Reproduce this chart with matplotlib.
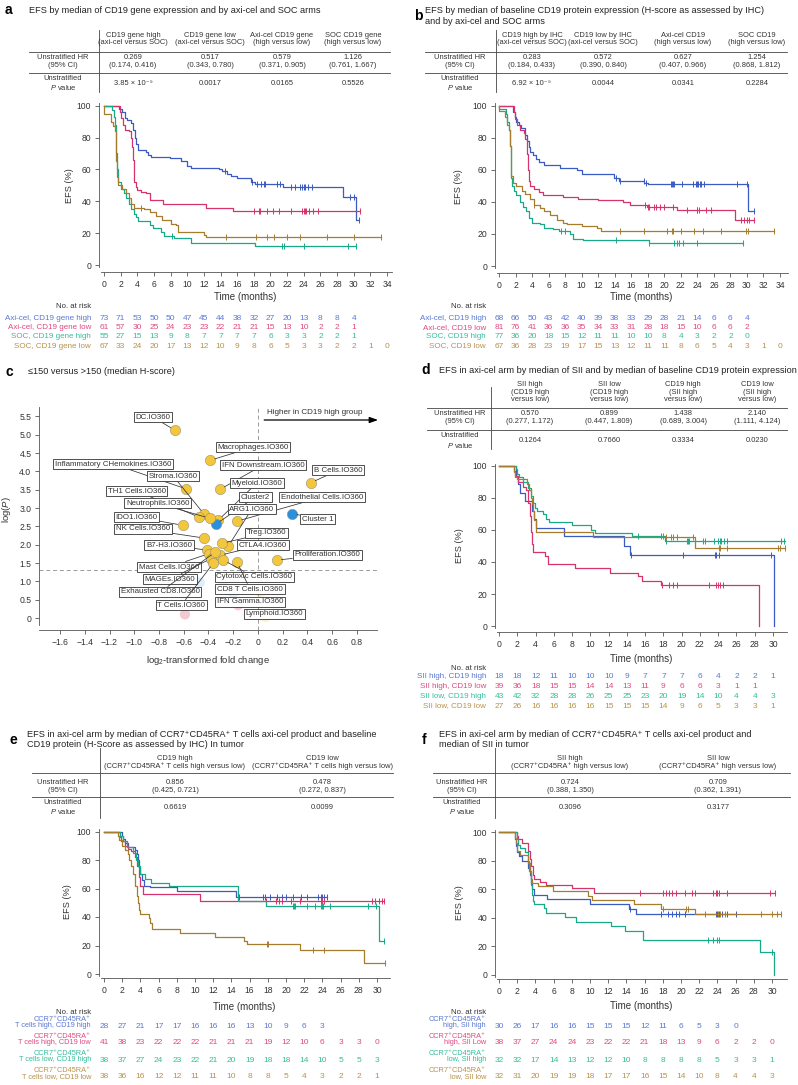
"""
Biomarker / EFS composite figure (panels a-f).
Kaplan-Meier panels with HR tables + risk tables, and a volcano-style
scatter of IO360 signatures.  Saves out.png (798 x 1085 px).
"""

import numpy as np
import matplotlib
matplotlib.use("Agg")
import matplotlib.pyplot as plt
from matplotlib.lines import Line2D
from matplotlib.transforms import blended_transform_factory

plt.rcParams["font.family"] = ["Liberation Sans", "DejaVu Sans"]
plt.rcParams["mathtext.fontset"] = "custom"
plt.rcParams["mathtext.rm"] = "Liberation Sans"
plt.rcParams["mathtext.it"] = "Liberation Sans:italic"

W, H = 798, 1085

BLUE, PINK, TEAL, BROWN = "#3a5bc2", "#d6336e", "#18aa88", "#a67d2e"
R_BLUE, R_PINK, R_TEAL, R_BROWN = "#5b78d2", "#de4a82", "#35bd9b", "#b8924c"
TXT = "#333333"
AXC = "#555555"

# ── Panel a: CD19 gene expression ─────────────────────────────────────────────
a_axi_high_t = [0, 1.8, 2.2, 2.5, 2.8, 3.2, 3.5, 3.7, 3.9, 4.1, 5.0, 5.3, 5.6, 7.9, 9.2, 10.0,
                10.4, 13.8, 14.2, 14.8, 15.2, 16.0, 17.7, 18.1, 21.5, 28.7, 30.3, 30.6]
a_axi_high_s = [100, 98, 96, 92, 91, 89, 85, 80, 76, 72, 71, 69, 68, 67, 65, 62,
                61, 60, 59, 57, 56, 54.5, 52, 51, 49, 43, 28.5, 28.5]
a_axi_high_c = [14.5, 17.8, 18.4, 18.9, 19.2, 19.4, 20.8, 21.1, 22.5, 23.0, 23.5, 23.8,
                24.0, 24.2, 24.5, 25.0, 29.5, 30.0, 30.6]
a_axi_low_t = [0, 1.9, 2.1, 2.3, 2.5, 3.0, 3.2, 3.35, 3.45, 3.55, 3.65, 3.8, 4.0, 4.5, 5.0,
               5.5, 7.1, 12.2, 15.5, 30.7]
a_axi_low_s = [100, 96, 92, 88, 85, 84, 80, 74, 66, 58, 52, 49, 47, 46, 45,
               41, 38, 35.5, 34, 34]
a_axi_low_c = [18.0, 18.6, 18.8, 19.6, 20.3, 21.0, 22.5, 23.8, 24.0, 24.1, 24.3, 24.6,
               25.1, 25.7, 30.7]
a_soc_high_t = [0, 1.0, 1.2, 1.35, 1.45, 1.5, 1.55, 1.65, 2.0, 2.4, 2.7, 3.0, 3.3, 3.6, 3.9,
                4.1, 5.5, 5.9, 6.8, 7.2, 8.4, 10.4, 18.1, 30.3]
a_soc_high_s = [100, 97, 93, 88, 80, 70, 60, 52, 48, 45, 42, 38, 35, 32, 30,
                27.5, 25, 23, 21, 18, 17, 14, 12, 12]
a_soc_high_c = [8.2, 21.4, 21.6, 24.0, 29.3, 30.3]
a_soc_low_t = [0, 0.05, 0.9, 1.1, 1.3, 1.45, 1.5, 1.6, 1.7, 2.2, 2.6, 3.0, 3.3, 3.6, 4.8,
               5.5, 6.3, 7.0, 8.0, 8.6, 8.9, 12.0, 12.3, 33.3]
a_soc_low_s = [100, 95, 90, 87, 84, 75, 65, 55, 50, 48, 45, 42, 38, 36, 35,
               33, 31, 28, 26, 25, 20.5, 19, 17.5, 17.5]
a_soc_low_c = [4.5, 14.6, 18.3, 19.6, 20.4, 22.0, 23.6, 26.8, 30.0, 33.3]

a_labels = ["Axi-cel, CD19 gene high", "Axi-cel, CD19 gene low",
            "SOC, CD19 gene high", "SOC, CD19 gene low"]
a_risk_axi_high = [73, 71, 53, 50, 50, 47, 45, 44, 38, 32, 27, 20, 13, 8, 8, 4]
a_risk_axi_low = [61, 57, 30, 25, 24, 23, 23, 22, 21, 21, 15, 13, 10, 2, 2, 1]
a_risk_soc_high = [55, 27, 15, 13, 9, 8, 7, 7, 7, 7, 6, 3, 3, 2, 2, 1]
a_risk_soc_low = [67, 33, 24, 20, 17, 13, 12, 10, 9, 8, 6, 5, 3, 3, 2, 2, 1, 0]

a_headers = ["CD19 gene high\n(axi-cel versus SOC)", "CD19 gene low\n(axi-cel versus SOC)",
             "Axi-cel CD19 gene\n(high versus low)", "SOC CD19 gene\n(high versus low)"]
a_hr = ["0.269\n(0.174, 0.416)", "0.517\n(0.343, 0.780)",
        "0.579\n(0.371, 0.905)", "1.126\n(0.761, 1.667)"]
a_p = ["3.85 × 10⁻⁹", "0.0017", "0.0165", "0.5526"]

# ── Panel b: CD19 protein (IHC) ───────────────────────────────────────────────
b_axi_high_t = [0, 1.7, 1.9, 2.1, 2.4, 2.7, 3.2, 3.4, 3.6, 3.8, 4.1, 4.5, 4.9, 5.4, 7.4, 9.4,
                10.0, 13.9, 14.5, 17.6, 18.0, 30.1, 30.8]
b_axi_high_s = [100, 96, 93, 90, 88, 86, 82, 78, 74, 71, 69, 67, 65, 63, 61, 60,
                57.5, 55, 53, 52, 51, 34, 34]
b_axi_high_c = [14.2, 14.6, 17.5, 17.8, 20.8, 20.9, 21.0, 21.2, 22.2, 23.5, 23.8, 24.0,
                24.1, 24.3, 24.5, 24.8, 28.8, 30.0, 30.8]
b_axi_low_t = [0, 1.8, 1.9, 2.2, 2.5, 3.0, 3.2, 3.35, 3.5, 3.65, 3.8, 4.2, 4.9, 5.3, 7.8,
               9.5, 12.0, 15.0, 15.8, 17.9, 21.5, 28.6, 30.8]
b_axi_low_s = [100, 96, 92, 88, 85, 83, 79, 70, 60, 53, 50, 48, 46, 44, 43,
               42, 41, 40, 38, 37, 35, 29, 29]
b_axi_low_c = [17.7, 18.0, 18.2, 18.7, 19.0, 19.5, 20.0, 21.0, 22.8, 23.9, 24.0, 24.2,
               25.0, 25.7, 29.3, 29.7, 30.0, 30.3, 30.8]
b_soc_high_t = [0, 0.05, 0.8, 1.0, 1.15, 1.3, 1.4, 1.5, 1.6, 1.8, 2.0, 2.5, 2.9, 3.3, 3.6,
                4.0, 5.0, 5.5, 6.5, 7.3, 8.6, 9.0, 10.2, 18.2, 29.5]
b_soc_high_s = [100, 98, 95, 90, 85, 75, 62, 55, 50, 47, 44, 40, 37, 34, 30,
                27, 26, 24, 23, 22, 20, 17, 16, 14.5, 14.5]
b_soc_high_c = [7.5, 8.0, 14.1, 18.2, 21.2, 21.5, 21.8, 22.3, 24.0, 29.5]
b_soc_low_t = [0, 0.05, 0.7, 1.0, 1.2, 1.35, 1.45, 1.5, 1.7, 2.0, 2.8, 3.2, 3.7, 4.2, 5.0,
               5.5, 6.2, 7.0, 7.7, 8.2, 10.0, 11.8, 12.3, 33.3]
b_soc_low_s = [100, 97, 93, 88, 85, 75, 62, 56, 52, 50, 47, 45, 42, 38, 36,
               34, 32, 29, 27, 26, 25, 24, 22, 22]
b_soc_low_c = [4.2, 14.6, 17.5, 20.3, 20.9, 21.1, 22.0, 23.6, 24.7, 26.9, 29.9, 30.1, 33.3]

b_labels = ["Axi-cel, CD19 high", "Axi-cel, CD19 low", "SOC, CD19 high", "SOC, CD19 low"]
b_risk_axi_high = [68, 66, 50, 43, 42, 40, 39, 38, 33, 29, 28, 21, 14, 6, 6, 4]
b_risk_axi_low = [81, 76, 41, 36, 36, 35, 34, 33, 31, 28, 18, 15, 10, 6, 6, 2]
b_risk_soc_high = [77, 36, 20, 18, 15, 12, 11, 11, 10, 10, 8, 4, 3, 2, 2, 0]
b_risk_soc_low = [67, 36, 28, 23, 19, 17, 15, 13, 12, 11, 11, 8, 6, 5, 4, 3, 1, 0]

b_headers = ["CD19 high by IHC\n(axi-cel versus SOC)", "CD19 low by IHC\n(axi-cel versus SOC)",
             "Axi-cel CD19\n(high versus low)", "SOC CD19\n(high versus low)"]
b_hr = ["0.283\n(0.184, 0.433)", "0.572\n(0.390, 0.840)",
        "0.627\n(0.407, 0.966)", "1.254\n(0.868, 1.812)"]
b_p = ["6.92 × 10⁻⁹", "0.0044", "0.0341", "0.2284"]

# ── Panel c: IO360 signatures, <=150 vs >150 H-score ─────────────────────────
sig_names = ["DC.IO360", "Macrophages.IO360", "Inflammatory CHemokines.IO360",
             "IFN Downstream.IO360", "B Cells.IO360", "Stroma.IO360", "Myeloid.IO360",
             "TH1 Cells.IO360", "Cluster2", "Endothelial Cells.IO360", "Neutrophils.IO360",
             "ARG1.IO360", "IDO1.IO360", "Cluster 1", "NK Cells.IO360", "Treg.IO360",
             "B7-H3.IO360", "CTLA4.IO360", "Proliferation.IO360", "Mast Cells.IO360",
             "Cytotoxic Cells.IO360", "MAGEs.IO360", "CD8 T Cells.IO360",
             "Exhausted CD8.IO360", "IFN Gamma.IO360", "T Cells.IO360", "Lymphoid.IO360"]
sig_fc = [-0.67, -0.387, -0.58, -0.306, 0.427, -0.435, -0.32, -0.475, -0.34, -0.17, -0.39,
          -0.24, -0.61, 0.276, -0.435, -0.29, -0.41, -0.31, 0.15, -0.40, -0.28, -0.38,
          -0.17, -0.345, -0.16, -0.36, 0.06]
sig_logp = [5.12, 4.30, 3.52, 3.51, 3.69, 2.83, 2.67, 2.75, 2.56, 2.64, 2.72, 1.96, 2.53,
            2.85, 2.18, 2.04, 1.85, 1.71, 1.58, 1.75, 1.58, 1.62, 1.53, 1.80, 0.35, 1.50, 0.03]
sig_kind = ["sig"] * 8 + ["cluster"] + ["sig"] * 4 + ["cluster"] + ["sig"] * 10 + \
           ["faint_pink", "sig", "faint_yellow"]
# unlabeled, non-significant signatures
extra_fc = [-0.59, -0.47, -0.20, -0.28, 0.02]
extra_logp = [0.10, 0.97, 0.68, 1.00, 0.70]
extra_kind = ["faint_pink", "faint_blue", "faint_blue", "faint_yellow", "faint_yellow"]

# label box centres (data units of panel c)
sig_label_xy = {
    "DC.IO360": (-0.85, 5.48), "Macrophages.IO360": (-0.04, 4.66),
    "Inflammatory CHemokines.IO360": (-1.17, 4.20), "IFN Downstream.IO360": (0.04, 4.17),
    "B Cells.IO360": (0.65, 4.03), "Stroma.IO360": (-0.685, 3.87),
    "Myeloid.IO360": (-0.01, 3.68), "TH1 Cells.IO360": (-0.98, 3.46),
    "Cluster2": (-0.02, 3.30), "Endothelial Cells.IO360": (0.52, 3.30),
    "Neutrophils.IO360": (-0.81, 3.13), "ARG1.IO360": (-0.05, 2.97),
    "IDO1.IO360": (-0.98, 2.75), "Cluster 1": (0.48, 2.70),
    "NK Cells.IO360": (-0.93, 2.43), "Treg.IO360": (0.07, 2.32),
    "B7-H3.IO360": (-0.72, 1.99), "CTLA4.IO360": (0.04, 1.99),
    "Proliferation.IO360": (0.56, 1.72), "Mast Cells.IO360": (-0.72, 1.39),
    "Cytotoxic Cells.IO360": (-0.03, 1.12), "MAGEs.IO360": (-0.71, 1.06),
    "CD8 T Cells.IO360": (-0.065, 0.79), "Exhausted CD8.IO360": (-0.79, 0.71),
    "IFN Gamma.IO360": (-0.065, 0.44), "T Cells.IO360": (-0.62, 0.35),
    "Lymphoid.IO360": (0.13, 0.11),
}
KIND_COLOR = {"sig": ("#f3c73c", 1.0), "cluster": ("#2a8fdc", 1.0),
              "faint_pink": ("#e88a98", 0.45), "faint_blue": ("#2a8fdc", 0.15),
              "faint_yellow": ("#f3c73c", 0.25)}

# ── Panel d: SII x CD19 protein, axi-cel arm ─────────────────────────────────
d_hh_t = [0, 1.9, 2.1, 2.3, 2.8, 3.6, 3.8, 4.1, 7.1, 13.7, 14.3, 30.1]
d_hh_s = [100, 94, 89, 83, 78, 72, 67, 61, 56, 50, 44.5, 0]
d_hh_c = [14.4, 20.1, 23.6, 23.8, 24.1, 29.8]
d_hl_t = [0, 1.6, 1.8, 2.1, 2.6, 3.0, 3.2, 3.35, 3.5, 3.6, 3.7, 5.0, 5.4, 8.3, 12.2, 15.2,
          15.7, 17.7, 28.5]
d_hl_s = [100, 97, 94, 90, 87, 85, 77, 69, 59, 51, 46, 44, 38.5, 36, 33, 31,
          28, 25.5, 0]
d_hl_c = [17.8, 18.6, 19.0, 19.5, 23.0, 23.8, 24.0, 24.2, 24.5]
d_lh_t = [0, 1.9, 2.0, 2.2, 2.6, 3.2, 3.5, 3.7, 3.9, 4.2, 4.8, 5.2, 5.5, 8.0, 10.1, 10.5,
          14.6, 18.2, 31.3]
d_lh_s = [100, 98, 95, 93, 90, 86, 81, 77, 74, 72, 70, 67, 65, 63, 60, 58,
          56, 53, 53]
d_lh_c = [15.2, 17.7, 18.0, 18.3, 20.6, 20.7, 20.8, 22.3, 22.6, 23.5, 24.0, 24.2, 24.3,
          24.6, 25.0, 30.9, 31.2]
d_ll_t = [0, 1.6, 1.8, 2.0, 3.1, 3.3, 3.5, 3.65, 3.75, 3.85, 4.1, 10.3, 21.5, 31.3]
d_ll_s = [100, 96, 93, 92, 89, 85, 80, 76, 72, 66, 59, 55.5, 48.5, 48.5]
d_ll_c = [18.3, 18.8, 19.1, 19.5, 21.2, 24.1, 24.2, 25.0, 30.6, 30.8, 31.3]

d_labels = ["SII high, CD19 high", "SII high, CD19 low", "SII low, CD19 high", "SII low, CD19 low"]
d_risk_hh = [18, 18, 12, 11, 10, 10, 10, 9, 7, 7, 7, 6, 4, 2, 2, 1]
d_risk_hl = [39, 36, 18, 15, 15, 14, 14, 13, 11, 9, 6, 6, 3, 1, 1]
d_risk_lh = [43, 42, 32, 28, 28, 26, 25, 25, 23, 20, 19, 14, 10, 4, 4, 3]
d_risk_ll = [27, 26, 16, 16, 16, 16, 15, 15, 15, 14, 9, 6, 5, 3, 3, 1]

d_headers = ["SII high\n(CD19 high\nversus low)", "SII low\n(CD19 high\nversus low)",
             "CD19 high\n(SII high\nversus low)", "CD19 low\n(SII high\nversus low)"]
d_hr = ["0.570\n(0.277, 1.172)", "0.899\n(0.447, 1.809)",
        "1.438\n(0.689, 3.004)", "2.140\n(1.111, 4.124)"]
d_p = ["0.1264", "0.7660", "0.3334", "0.0230"]

# ── Panel e: CCR7+CD45RA+ T cells x CD19 protein ─────────────────────────────
e_hh_t = [0, 2.0, 2.1, 2.3, 2.6, 3.4, 3.6, 3.7, 3.8, 4.0, 4.2, 4.4, 5.0, 8.0, 14.5, 24.5]
e_hh_s = [100, 97, 95, 92, 89, 87, 84, 80, 75, 70, 66, 62, 61, 58, 54, 54]
e_hh_c = [14.8, 17.5, 17.7, 18.2, 19.0, 19.6, 20.0, 20.8, 21.7, 22.3, 23.5, 23.9, 24.0,
          24.2, 24.5]
e_hl_t = [0, 1.8, 1.9, 2.3, 2.6, 3.0, 3.4, 3.6, 3.8, 4.0, 4.3, 10.5, 30.8]
e_hl_s = [100, 96, 93, 90, 88, 86, 82, 76, 68, 62, 56, 51, 51]
e_hl_c = [17.8, 18.9, 19.2, 19.6, 20.6, 21.5, 23.9, 24.0, 24.2, 29.5, 29.8, 30.2, 30.5, 30.8]
e_lh_t = [0, 1.8, 2.1, 2.5, 3.2, 3.5, 3.7, 4.0, 4.5, 5.2, 7.1, 14.7, 17.8, 30.2, 30.8]
e_lh_s = [100, 97, 93, 89, 85, 80, 76, 70, 67, 64, 62, 51, 48, 23, 23]
e_lh_c = [20.8, 20.9, 21.0, 22.3, 23.2, 23.8, 24.0, 24.1, 24.8, 29.0, 29.9, 30.8]
e_ll_t = [0, 1.5, 1.6, 2.0, 2.3, 2.6, 2.8, 3.0, 3.2, 3.4, 3.6, 3.7, 3.8, 4.0, 4.9, 5.1,
          5.3, 8.4, 12.2, 15.4, 15.7, 21.5, 28.6, 30.9]
e_ll_s = [100, 97, 94, 90, 87, 84, 80, 76, 70, 62, 55, 50, 45, 42, 39, 36,
          31.5, 29, 26, 23, 21, 16.5, 8, 8]
e_ll_c = [17.9, 18.0, 23.0, 24.2, 30.9]

e_labels = ["CCR7⁺CD45RA⁺\nT cells high, CD19 high", "CCR7⁺CD45RA⁺\nT cells high, CD19 low",
            "CCR7⁺CD45RA⁺\nT cells low, CD19 high", "CCR7⁺CD45RA⁺\nT cells low, CD19 low"]
e_risk_hh = [28, 27, 21, 17, 17, 16, 16, 16, 13, 10, 9, 6, 3]
e_risk_hl = [41, 38, 23, 22, 22, 22, 21, 21, 21, 19, 12, 10, 6, 3, 3, 0]
e_risk_lh = [38, 37, 27, 24, 23, 22, 21, 20, 19, 18, 18, 14, 10, 5, 5, 3]
e_risk_ll = [38, 36, 16, 12, 12, 11, 11, 10, 8, 8, 5, 4, 3, 2, 2, 1]

e_headers = ["CD19 high\n(CCR7⁺CD45RA⁺ T cells high versus low)",
             "CD19 low\n(CCR7⁺CD45RA⁺ T cells high versus low)"]
e_hr = ["0.856\n(0.425, 0.721)", "0.478\n(0.272, 0.837)"]
e_p = ["0.6619", "0.0099"]

# ── Panel f: CCR7+CD45RA+ T cells x SII ──────────────────────────────────────
f_hh_t = [0, 1.8, 1.9, 2.0, 2.2, 2.5, 3.2, 3.4, 3.5, 3.6, 3.8, 5.3, 10.0, 14.3, 15.0, 26.0]
f_hh_s = [100, 95, 90, 86, 83, 80, 75, 70, 64, 60, 56, 53, 49.5, 46, 42.5, 42.5]
f_hh_c = [14.4, 17.8, 18.6, 19.0, 19.4, 19.8, 20.4, 23.8, 24.0, 24.2, 24.5, 25.0, 26.0]
f_hl_t = [0, 2.0, 2.1, 2.5, 3.2, 3.4, 3.5, 3.7, 3.9, 4.5, 5.2, 8.0, 10.4, 30.3]
f_hl_s = [100, 97, 95, 92, 87, 81, 76, 70, 67, 65, 63, 60.5, 57.5, 57.5]
f_hl_c = [15.5, 18.0, 18.3, 18.7, 19.0, 19.4, 20.4, 21.2, 21.5, 23.5, 23.8, 24.0, 24.2,
          25.0, 29.8, 30.3]
f_lh_t = [0, 2.0, 2.1, 2.3, 2.9, 3.2, 3.3, 3.5, 3.6, 3.7, 3.9, 4.9, 5.2, 7.3, 8.5, 12.3,
          13.8, 15.8, 28.7, 30.2]
f_lh_s = [100, 95, 91, 89, 86, 80, 73, 63, 56, 52, 50, 47, 43.5, 40.7, 37.2, 34.2,
          30.9, 24.4, 16.3, 0]
f_lh_c = [23.0, 23.5, 24.0, 24.2, 30.0]
f_ll_t = [0, 1.8, 1.9, 2.0, 2.3, 3.2, 3.4, 3.5, 3.6, 4.3, 5.9, 9.8, 10.2, 14.8, 17.8,
          21.5, 31.0]
f_ll_s = [100, 96, 92, 87, 84, 78, 72, 67, 64, 62.5, 59, 55.5, 52.5, 49.5, 46.5,
          42.5, 42.5]
f_ll_c = [18.0, 20.6, 20.8, 22.6, 24.1, 24.3, 24.8, 28.8, 30.0, 30.5, 31.0]

f_labels = ["CCR7⁺CD45RA⁺\nhigh, SII high", "CCR7⁺CD45RA⁺\nhigh, SII Low",
            "CCR7⁺CD45RA⁺\nlow, SII high", "CCR7⁺CD45RA⁺\nlow, SII low"]
f_risk_hh = [30, 26, 17, 16, 16, 15, 15, 15, 12, 11, 6, 5, 3, 0]
f_risk_hl = [38, 37, 27, 24, 24, 23, 22, 22, 21, 18, 13, 9, 6, 2, 2, 0]
f_risk_lh = [32, 32, 17, 14, 13, 12, 12, 10, 8, 8, 8, 8, 5, 3, 3, 1]
f_risk_ll = [32, 31, 20, 19, 19, 18, 17, 17, 16, 15, 14, 10, 8, 4, 4, 3]

f_headers = ["SII high\n(CCR7⁺CD45RA⁺ high versus low)", "SII low\n(CCR7⁺CD45RA⁺ high versus low)"]
f_hr = ["0.724\n(0.388, 1.350)", "0.709\n(0.362, 1.391)"]
f_p = ["0.3096", "0.3177"]


# ── Helpers ───────────────────────────────────────────────────────────────────
fig = plt.figure(figsize=(W / 100, H / 100), dpi=100)


def fx(x):
    return x / W


def fy(y):
    return 1 - y / H


def txt(x, y, s, **kw):
    opts = dict(fontsize=5.4, color=TXT, ha="center", va="center", linespacing=1.15)
    opts.update(kw)
    return fig.text(fx(x), fy(y), s, **opts)


def hline(x0, x1, y):
    fig.add_artist(Line2D([fx(x0), fx(x1)], [fy(y), fy(y)], transform=fig.transFigure,
                          color="#444444", lw=0.6))


def vline(x, y0, y1):
    fig.add_artist(Line2D([fx(x), fx(x)], [fy(y0), fy(y1)], transform=fig.transFigure,
                          color="#444444", lw=0.6))


def add_ax(box, xmap, ymap):
    """Axes from a pixel box; limits chosen so that two reference values land on given pixels."""
    l, t, r, b = box
    ax = fig.add_axes([fx(l), fy(b), (r - l) / W, (b - t) / H])
    (pa, va), (pb, vb) = xmap
    s = (vb - va) / (pb - pa)
    ax.set_xlim(va + (l - pa) * s, va + (r - pa) * s)
    (qa, wa), (qb, wb) = ymap
    s = (wb - wa) / (qb - qa)
    ax.set_ylim(wa + (b - qa) * s, wa + (t - qa) * s)
    ax.patch.set_alpha(0)
    return ax


def style(ax):
    for side in ["top", "right"]:
        ax.spines[side].set_visible(False)
    for side in ["left", "bottom"]:
        ax.spines[side].set_color(AXC)
        ax.spines[side].set_linewidth(0.6)
    ax.tick_params(length=3, width=0.6, color=AXC, labelsize=6.2, labelcolor=TXT, pad=2.5)


def label_title(x_letter, x_title, y, letter, title):
    txt(x_letter, y, letter, fontsize=10, fontweight="bold", color="black", ha="left")
    txt(x_title, y, title, fontsize=6.6, color="#222222", ha="left", linespacing=1.2)


def hr_table(cols, headers, hrs, ps, label_x, vx, hx0, hx1, head_y, l1, hr_y, l2, p_y, vtop, vbot):
    for cx, hd, hr, p in zip(cols, headers, hrs, ps):
        txt(cx, head_y, hd)
        txt(cx, hr_y, hr)
        txt(cx, p_y, p)
    txt(label_x, hr_y, "Unstratified HR\n(95% CI)")
    txt(label_x, p_y, "Unstratified\n$P$ value")
    hline(hx0, hx1, l1)
    hline(hx0, hx1, l2)
    vline(vx, vtop, vbot)


def km_curve(ax, t, s, cens, color):
    ax.step(t, s, where="post", color=color, lw=0.9)
    t = np.asarray(t)
    s = np.asarray(s)
    idx = np.searchsorted(t, cens, side="right") - 1
    ax.plot(cens, s[idx], ls="none", marker="|", ms=4.5, mew=0.7, color=color)


def km_panel(box, xmap, ymap, xmax, curves, risk, labels, risk_y, label_x, nrisk_y,
             ylab_x, xlab_y, two_line=False):
    ax = add_ax(box, xmap, ymap)
    style(ax)
    for (t, s, c), col in zip(curves, [BLUE, PINK, TEAL, BROWN]):
        km_curve(ax, t, s, c, col)
    ax.set_xticks(np.arange(0, xmax + 1, 2))
    ax.set_yticks(np.arange(0, 101, 20))
    ax.spines["left"].set_bounds(-1.5, 101.5)
    x0, x1 = ax.get_xlim()
    ax.spines["bottom"].set_bounds(x0 + 0.25, x1)
    l, t_, r, b = box
    # ylab_x: right edge of the rotated label, xlab_y: top edge of the label
    ax.set_ylabel("EFS (%)", fontsize=6.6, color=TXT)
    ax.yaxis.set_label_coords((ylab_x - l) / (r - l), 0.5)
    ax.set_xlabel("Time (months)", fontsize=7.0, color=TXT)
    ax.xaxis.set_label_coords(0.5, -(xlab_y - b) / (b - t_))

    trans = blended_transform_factory(ax.transData, fig.transFigure)
    txt(label_x, nrisk_y, "No. at risk", ha="right", fontsize=5.6)
    for row, lab, y, col in zip(risk, labels, risk_y, [R_BLUE, R_PINK, R_TEAL, R_BROWN]):
        for i, v in enumerate(row):
            ax.text(2 * i, fy(y), str(v), transform=trans, ha="center", va="center",
                    fontsize=6.0, color=col)
        if two_line:
            txt(label_x, y - 3.5, lab, ha="right", fontsize=5.3, color=col, linespacing=0.98)
        else:
            txt(label_x, y, lab, ha="right", fontsize=5.8, color=col)
    return ax


# ── Main ──────────────────────────────────────────────────────────────────────
def main():
    # a
    label_title(5, 29, 10.5, "a", "EFS by median of CD19 gene expression and by axi-cel and SOC arms")
    hr_table([133, 210, 282, 353], a_headers, a_hr, a_p, 63, 99, 29, 390,
             39, 52, 61.5, 73, 83.5, 30, 92)
    km_panel((99, 100, 392, 272), ((104, 0), (387, 34)), ((265, 0), (105.7, 100)), 34,
             [(a_axi_high_t, a_axi_high_s, a_axi_high_c), (a_axi_low_t, a_axi_low_s, a_axi_low_c),
              (a_soc_high_t, a_soc_high_s, a_soc_high_c), (a_soc_low_t, a_soc_low_s, a_soc_low_c)],
             [a_risk_axi_high, a_risk_axi_low, a_risk_soc_high, a_risk_soc_low], a_labels,
             [318, 327.3, 336.6, 346], 91, 307, 74, 292)

    # b
    label_title(414, 425, 16, "b", "EFS by median of baseline CD19 protein expression (H-score as assessed by IHC)\n"
                                   "and by axi-cel and SOC arms")
    hr_table([532, 603, 683, 757], b_headers, b_hr, b_p, 460, 496, 425, 787,
             39, 52, 61.5, 73, 83.5, 30, 92)
    km_panel((495, 100, 788, 273), ((499, 0), (780, 34)), ((266, 0), (105.7, 100)), 34,
             [(b_axi_high_t, b_axi_high_s, b_axi_high_c), (b_axi_low_t, b_axi_low_s, b_axi_low_c),
              (b_soc_high_t, b_soc_high_s, b_soc_high_c), (b_soc_low_t, b_soc_low_s, b_soc_low_c)],
             [b_risk_axi_high, b_risk_axi_low, b_risk_soc_high, b_risk_soc_low], b_labels,
             [318, 327.3, 336.6, 346], 486, 307, 463, 292)

    # c
    label_title(5, 28, 372, "c", "≤150 versus >150 (median H-score)")
    ax = add_ax((39, 407, 377, 630), ((258, 0), (357, 0.8)), ((618, 0), (453, 4.5)))
    style(ax)
    ax.axhline(1.3, color="#9a9a9a", lw=0.7, ls=(0, (4, 3)), zorder=1)
    ax.axvline(0, color="#9a9a9a", lw=0.7, ls=(0, (4, 3)), zorder=1)
    for fc, lp, kind in zip(extra_fc, extra_logp, extra_kind):
        col, a = KIND_COLOR[kind]
        ax.scatter(fc, lp, s=55, color=col, alpha=a, edgecolors="none", zorder=2)
    for name, fc, lp, kind in zip(sig_names, sig_fc, sig_logp, sig_kind):
        col, a = KIND_COLOR[kind]
        ec = "#9a9070" if a == 1.0 else "none"
        ax.scatter(fc, lp, s=55, color=col, alpha=a, edgecolors=ec, linewidths=0.4, zorder=3)
    for name, fc, lp in zip(sig_names, sig_fc, sig_logp):
        lx, ly = sig_label_xy[name]
        ax.annotate(name, xy=(fc, lp), xytext=(lx, ly), fontsize=5.7, color=TXT,
                    ha="center", va="center", zorder=5, annotation_clip=False,
                    bbox=dict(boxstyle="square,pad=0.22", fc="white", ec="#333333", lw=0.6),
                    arrowprops=dict(arrowstyle="-", color="#333333", lw=0.55,
                                    shrinkA=0, shrinkB=3.5))
    ax.set_xticks(np.arange(-1.6, 0.81, 0.2))
    ax.set_xticklabels(["−1.6", "−1.4", "−1.2", "−1.0", "−0.8", "−0.6", "−0.4", "−0.2",
                        "0", "0.2", "0.4", "0.6", "0.8"])
    ax.set_yticks(np.arange(0, 5.51, 0.5))
    ax.set_yticklabels(["0", "0.5", "1.0", "1.5", "2.0", "2.5", "3.0", "3.5", "4.0",
                        "4.5", "5.0", "5.5"])
    ax.spines["left"].set_bounds(-0.2, ax.get_ylim()[1])
    ax.set_xlabel("log$_2$-transformed fold change", fontsize=6.8, color=TXT)
    ax.xaxis.set_label_coords(0.5, -(654 - 630) / (630 - 407))
    ax.set_ylabel("log($P$)", fontsize=6.8, color=TXT)
    ax.yaxis.set_label_coords((13 - 39) / (377 - 39), (630 - 510) / (630 - 407))
    ax.annotate("", xy=(0.97, 5.4), xytext=(0.05, 5.4), annotation_clip=False,
                arrowprops=dict(arrowstyle="-|>,head_length=0.5,head_width=0.18",
                                color="black", lw=0.9, shrinkA=0, shrinkB=0))
    ax.text(0.07, 5.61, "Higher in CD19 high group", fontsize=5.9, color=TXT,
            ha="left", va="center")

    # d
    label_title(421, 439, 370, "d", "EFS in axi-cel arm by median of SII and by median of baseline CD19 protein expression")
    hr_table([530, 609, 683, 757], d_headers, d_hr, d_p, 460, 491, 427, 787,
             392, 408, 417.5, 430, 441, 387, 449)
    km_panel((495, 460, 787, 632), ((499, 0), (773, 30)), ((626, 0), (466, 100)), 30,
             [(d_hh_t, d_hh_s, d_hh_c), (d_hl_t, d_hl_s, d_hl_c),
              (d_lh_t, d_lh_s, d_lh_c), (d_ll_t, d_ll_s, d_ll_c)],
             [d_risk_hh, d_risk_hl, d_risk_lh, d_risk_ll], d_labels,
             [677, 686.7, 696.3, 706], 486, 668, 464, 654)

    # e
    label_title(10, 27, 739.5, "e", "EFS in axi-cel arm by median of CCR7⁺CD45RA⁺ T cells axi-cel product and baseline\n"
                                    "CD19 protein (H-Score as assessed by IHC) In tumor")
    hr_table([175, 322], e_headers, e_hr, e_p, 63, 100, 32, 393,
             762.5, 773, 786.5, 797, 807.5, 748, 818)
    km_panel((99, 826, 390, 978), ((104, 0), (377, 30)), ((974, 0), (831.5, 100)), 30,
             [(e_hh_t, e_hh_s, e_hh_c), (e_hl_t, e_hl_s, e_hl_c),
              (e_lh_t, e_lh_s, e_lh_c), (e_ll_t, e_ll_s, e_ll_c)],
             [e_risk_hh, e_risk_hl, e_risk_lh, e_risk_ll], e_labels,
             [1026, 1043, 1060, 1077], 91, 1013, 72, 1002, two_line=True)

    # f
    label_title(422, 439, 739.5, "f", "EFS in axi-cel arm by median of CCR7⁺CD45RA⁺ T cells axi-cel product and\n"
                                      "median of SII in tumor")
    hr_table([570, 718], f_headers, f_hr, f_p, 462, 495, 433, 790,
             762.5, 773, 786.5, 797, 807.5, 748, 818)
    km_panel((495, 826, 787, 979), ((499, 0), (772, 30)), ((975, 0), (832, 100)), 30,
             [(f_hh_t, f_hh_s, f_hh_c), (f_hl_t, f_hl_s, f_hl_c),
              (f_lh_t, f_lh_s, f_lh_c), (f_ll_t, f_ll_s, f_ll_c)],
             [f_risk_hh, f_risk_hl, f_risk_lh, f_risk_ll], f_labels,
             [1026, 1043, 1060, 1077], 486, 1013, 464, 1001, two_line=True)

    fig.savefig("out.png", dpi=100, facecolor="white")


if __name__ == "__main__":
    main()
